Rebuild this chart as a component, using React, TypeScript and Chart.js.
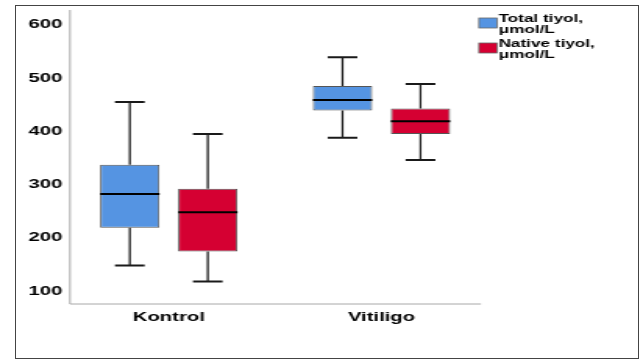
import React, { useEffect, useRef } from 'react';
import { Chart, registerables } from 'chart.js';

Chart.register(...registerables);

// ---- data ----
const categories = ['Kontrol', 'Vitiligo'];
const yTicks = [100, 200, 300, 400, 500, 600];

const totalMin = [148, 388];
const totalQ1 = [219, 439];
const totalMedian = [282, 459];
const totalQ3 = [337, 485];
const totalMax = [455, 539];

const nativeMin = [118, 346];
const nativeQ1 = [174, 395];
const nativeMedian = [248, 419];
const nativeQ3 = [292, 443];
const nativeMax = [395, 489];

const seriesNames = ['Total tiyol, μmol/L', 'Native tiyol, μmol/L'];
const legendLines = [
  ['Total tiyol,', 'μmol/L'],
  ['Native tiyol,', 'μmol/L'],
];
const seriesColors = ['#5594e2', '#d50032'];

// logical canvas width, stretched horizontally to 643 px
const LW = 412;
const SX = 643 / LW;
const FONT = '"Liberation Sans", Arial, sans-serif';

const boxplotPlugin = {
  id: 'boxplotWhiskers',
  beforeDatasetsDraw(chart: any) {
    const ctx = chart.ctx;
    const area = chart.chartArea;
    ctx.save();
    ctx.strokeStyle = '#a8a8a8';
    ctx.lineWidth = 1;
    const ax = 44.85;
    ctx.beginPath();
    ctx.moveTo(ax, 10);
    ctx.lineTo(ax, area.bottom);
    ctx.lineTo(308.2, area.bottom);
    ctx.stroke();
    ctx.restore();
  },
  afterDatasetsDraw(chart: any) {
    const ctx = chart.ctx;
    const y = chart.scales.y;
    chart.data.datasets.forEach((ds: any, di: number) => {
      const meta = chart.getDatasetMeta(di);
      meta.data.forEach((bar: any, i: number) => {
        const { x, width } = bar.getProps(['x', 'width'], true);
        const yMin = y.getPixelForValue(ds.whiskerMin[i]);
        const yQ1 = y.getPixelForValue(ds.data[i][0]);
        const yQ3 = y.getPixelForValue(ds.data[i][1]);
        const yMed = y.getPixelForValue(ds.median[i]);
        const yMax = y.getPixelForValue(ds.whiskerMax[i]);
        const half = width / 2;
        const cap = width / 4;
        ctx.save();
        ctx.strokeStyle = '#1a1a1a';
        // whisker stems
        ctx.lineWidth = 1.25;
        ctx.beginPath();
        ctx.moveTo(x, yQ3);
        ctx.lineTo(x, yMax);
        ctx.moveTo(x, yQ1);
        ctx.lineTo(x, yMin);
        ctx.stroke();
        // caps
        ctx.lineWidth = 2;
        ctx.beginPath();
        ctx.moveTo(x - cap, yMax);
        ctx.lineTo(x + cap, yMax);
        ctx.moveTo(x - cap, yMin);
        ctx.lineTo(x + cap, yMin);
        ctx.stroke();
        // median
        ctx.strokeStyle = '#000';
        ctx.lineWidth = 2;
        ctx.beginPath();
        ctx.moveTo(x - half, yMed);
        ctx.lineTo(x + half, yMed);
        ctx.stroke();
        ctx.restore();
      });
    });
  },
  afterDraw(chart: any) {
    const ctx = chart.ctx;
    ctx.save();
    const swX = 306.9;
    const swW = 11.5;
    const swTops = [18, 43];
    const lineYs = [
      [18.5, 30],
      [43.5, 55],
    ];
    chart.data.datasets.forEach((ds: any, di: number) => {
      ctx.fillStyle = ds.backgroundColor;
      ctx.fillRect(swX, swTops[di], swW, 10);
      ctx.strokeStyle = '#666';
      ctx.lineWidth = 0.8;
      ctx.strokeRect(swX, swTops[di], swW, 10);
      ctx.fillStyle = '#000';
      ctx.font = `bold 11px ${FONT}`;
      ctx.textBaseline = 'middle';
      ctx.textAlign = 'left';
      legendLines[di].forEach((t, li) => {
        ctx.fillText(t, swX + swW + 1, lineYs[di][li]);
      });
    });
    ctx.restore();
  },
};

export default function App() {
  const ref = useRef<HTMLCanvasElement | null>(null);

  useEffect(() => {
    if (!ref.current) return;
    const chart = new Chart(ref.current, {
      type: 'bar',
      data: {
        labels: categories,
        datasets: [
          {
            label: seriesNames[0],
            data: totalQ1.map((q, i) => [q, totalQ3[i]]),
            backgroundColor: seriesColors[0],
            borderColor: '#555',
            borderWidth: 1,
            borderSkipped: false,
            whiskerMin: totalMin,
            whiskerMax: totalMax,
            median: totalMedian,
          } as any,
          {
            label: seriesNames[1],
            data: nativeQ1.map((q, i) => [q, nativeQ3[i]]),
            backgroundColor: seriesColors[1],
            borderColor: '#555',
            borderWidth: 1,
            borderSkipped: false,
            whiskerMin: nativeMin,
            whiskerMax: nativeMax,
            median: nativeMedian,
          } as any,
        ],
      },
      options: {
        responsive: false,
        animation: false,
        devicePixelRatio: 1,
        categoryPercentage: 0.733,
        barPercentage: 0.762,
        layout: { padding: { left: 18, right: LW - 312.6, top: 10, bottom: 26 } },
        plugins: {
          legend: { display: false },
          tooltip: { enabled: false },
        },
        scales: {
          x: {
            type: 'category',
            offset: true,
            grid: { display: false, drawTicks: false },
            border: { display: false },
            ticks: {
              color: '#000',
              padding: 6,
              font: { family: FONT, size: 13, weight: 'bold' },
            },
            afterFit: (s: any) => {
              s.height = 30;
            },
          },
          y: {
            type: 'linear',
            min: 75.5,
            max: 628,
            grid: { display: false, drawTicks: false },
            border: { display: false },
            ticks: {
              color: '#000',
              padding: 0,
              font: { family: FONT, size: 13, weight: 'bold' },
            },
            afterBuildTicks: (s: any) => {
              s.ticks = yTicks.map((v) => ({ value: v }));
            },
            afterFit: (s: any) => {
              s.width = 22;
            },
          },
        },
      } as any,
      plugins: [boxplotPlugin],
    });
    return () => chart.destroy();
  }, []);

  return (
    <div
      style={{
        position: 'fixed',
        left: 0,
        top: 0,
        width: 643,
        height: 360,
        background: '#fff',
        overflow: 'hidden',
      }}
    >
      <canvas
        ref={ref}
        width={LW}
        height={360}
        style={{
          width: LW,
          height: 360,
          display: 'block',
          transform: `scaleX(${SX})`,
          transformOrigin: '0 0',
        }}
      />
      <div
        style={{
          position: 'absolute',
          left: 15,
          top: 5,
          width: 624,
          height: 354,
          border: '1px solid #444',
          boxSizing: 'border-box',
          pointerEvents: 'none',
        }}
      />
    </div>
  );
}
